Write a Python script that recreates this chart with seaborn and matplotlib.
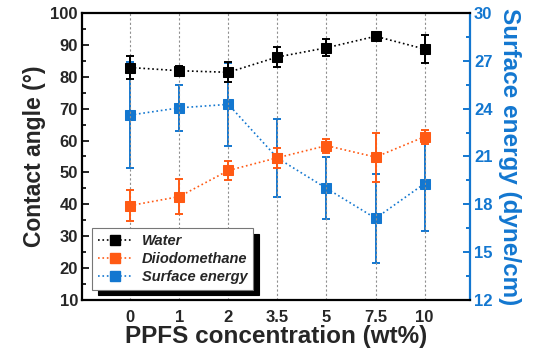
import matplotlib
matplotlib.use("Agg")
import matplotlib.pyplot as plt
from matplotlib.ticker import MultipleLocator
from matplotlib.lines import Line2D
import seaborn as sns
import pandas as pd
import numpy as np

# PPFS concentration categories (wt%)
concentrations = ["0", "1", "2", "3.5", "5", "7.5", "10"]

# Contact angles (degrees) with standard deviations
water = [82.9, 81.9, 81.4, 86.2, 89.1, 92.7, 88.7]
water_err = [3.7, 1.5, 3.1, 3.2, 2.6, 1.0, 4.4]
diiodo = [39.6, 42.4, 50.6, 54.6, 58.4, 54.8, 61.2]
diiodo_err = [5.0, 5.6, 3.0, 3.2, 2.2, 7.7, 2.2]

# Surface energy (dyne/cm) with standard deviations
surf = [23.6, 24.05, 24.27, 20.9, 19.0, 17.12, 19.3]
surf_err = [3.35, 1.45, 2.6, 2.45, 1.95, 2.8, 2.95]

BLACK = "#000000"
ORANGE = "#FF5A14"
BLUE = "#1377D0"

sns.set_style("ticks")
plt.rcParams["font.family"] = ["Liberation Sans", "DejaVu Sans"]
plt.rcParams["font.weight"] = "bold"

df = pd.DataFrame({
    "pos": np.arange(len(concentrations)),
    "water": water, "diiodo": diiodo, "surf": surf,
})

fig = plt.figure(figsize=(5.4, 3.52), dpi=100)
ax = fig.add_axes([0.152, 0.148, 0.718, 0.815])
ax2 = ax.twinx()

# vertical dotted guides at each concentration
for p in df["pos"]:
    ax.axvline(p, color="#909090", lw=0.8, ls=(0, (2, 2)), zorder=0)

mk = dict(marker="s", markersize=7, linewidth=1.2, linestyle=":")

sns.lineplot(data=df, x="pos", y="water", ax=ax, color=BLACK,
             markeredgecolor=BLACK, zorder=5, **mk)
ax.errorbar(df["pos"], water, yerr=water_err, fmt="none", ecolor=BLACK,
            elinewidth=1.4, capsize=3, capthick=1.4, zorder=4)

sns.lineplot(data=df, x="pos", y="diiodo", ax=ax, color=ORANGE,
             markeredgecolor=ORANGE, zorder=5, **mk)
ax.errorbar(df["pos"], diiodo, yerr=diiodo_err, fmt="none", ecolor=ORANGE,
            elinewidth=1.4, capsize=3, capthick=1.4, zorder=4)

sns.lineplot(data=df, x="pos", y="surf", ax=ax2, color=BLUE,
             markeredgecolor=BLUE, zorder=5, **mk)
ax2.errorbar(df["pos"], surf, yerr=surf_err, fmt="none", ecolor=BLUE,
             elinewidth=1.4, capsize=3, capthick=1.4, zorder=4)

ax.set_xlim(-0.98, 6.92)
ax.set_xticks(df["pos"])
ax.set_xticklabels(concentrations)
ax.set_ylim(10, 100)
ax.yaxis.set_major_locator(MultipleLocator(10))
ax.yaxis.set_minor_locator(MultipleLocator(5))
ax2.set_ylim(12, 30)
ax2.yaxis.set_major_locator(MultipleLocator(3))
ax2.yaxis.set_minor_locator(MultipleLocator(1.5))

ax.tick_params(axis="y", which="both", direction="in", width=1.4,
               labelsize=12, pad=3)
ax.tick_params(axis="y", which="major", length=5)
ax.tick_params(axis="y", which="minor", length=3)
ax.tick_params(axis="x", length=0, labelsize=12, pad=7)
ax2.tick_params(axis="y", which="both", direction="in", width=1.4,
                colors=BLUE, labelsize=12, pad=3)
ax2.tick_params(axis="y", which="major", length=5)
ax2.tick_params(axis="y", which="minor", length=3)

for lab in ax.get_xticklabels() + ax.get_yticklabels() + ax2.get_yticklabels():
    lab.set_fontweight("bold")

for s in ["left", "bottom", "top"]:
    ax.spines[s].set_linewidth(1.6)
    ax.spines[s].set_color(BLACK)
ax.spines["right"].set_visible(False)
for s in ["left", "bottom", "top"]:
    ax2.spines[s].set_visible(False)
ax2.spines["right"].set_linewidth(1.6)
ax2.spines["right"].set_color(BLUE)

ax.set_xlabel("PPFS concentration (wt%)", fontsize=17.5, fontweight="bold",
              labelpad=0)
ax.set_ylabel("Contact angle (\u00b0)", fontsize=16.5, fontweight="bold",
              labelpad=3)
ax2.set_ylabel("Surface energy (dyne/cm)", fontsize=17.5, fontweight="bold",
               color=BLUE, rotation=270, va="bottom", labelpad=4)

handles = [
    Line2D([], [], color=c, ls=":", lw=1.2, marker="s", markersize=7,
           markeredgecolor=c)
    for c in (BLACK, ORANGE, BLUE)
]
leg = ax.legend(handles, ["Water", "Diiodomethane", "Surface energy"],
                loc="lower left", bbox_to_anchor=(0.026, 0.035),
                borderaxespad=0,
                prop={"size": 10.5, "style": "italic", "weight": "bold"},
                frameon=True, fancybox=False, handlelength=2.4,
                handletextpad=0.6, borderpad=0.4, labelspacing=0.27,
                shadow={"color": "black", "alpha": 1, "ox": 4, "oy": -4})
leg.get_frame().set_edgecolor("#777777")
leg.get_frame().set_linewidth(0.8)
leg.set_zorder(10)
ax.set_zorder(ax2.get_zorder() + 1)
ax.patch.set_visible(False)

fig.savefig("out.png", dpi=100)
